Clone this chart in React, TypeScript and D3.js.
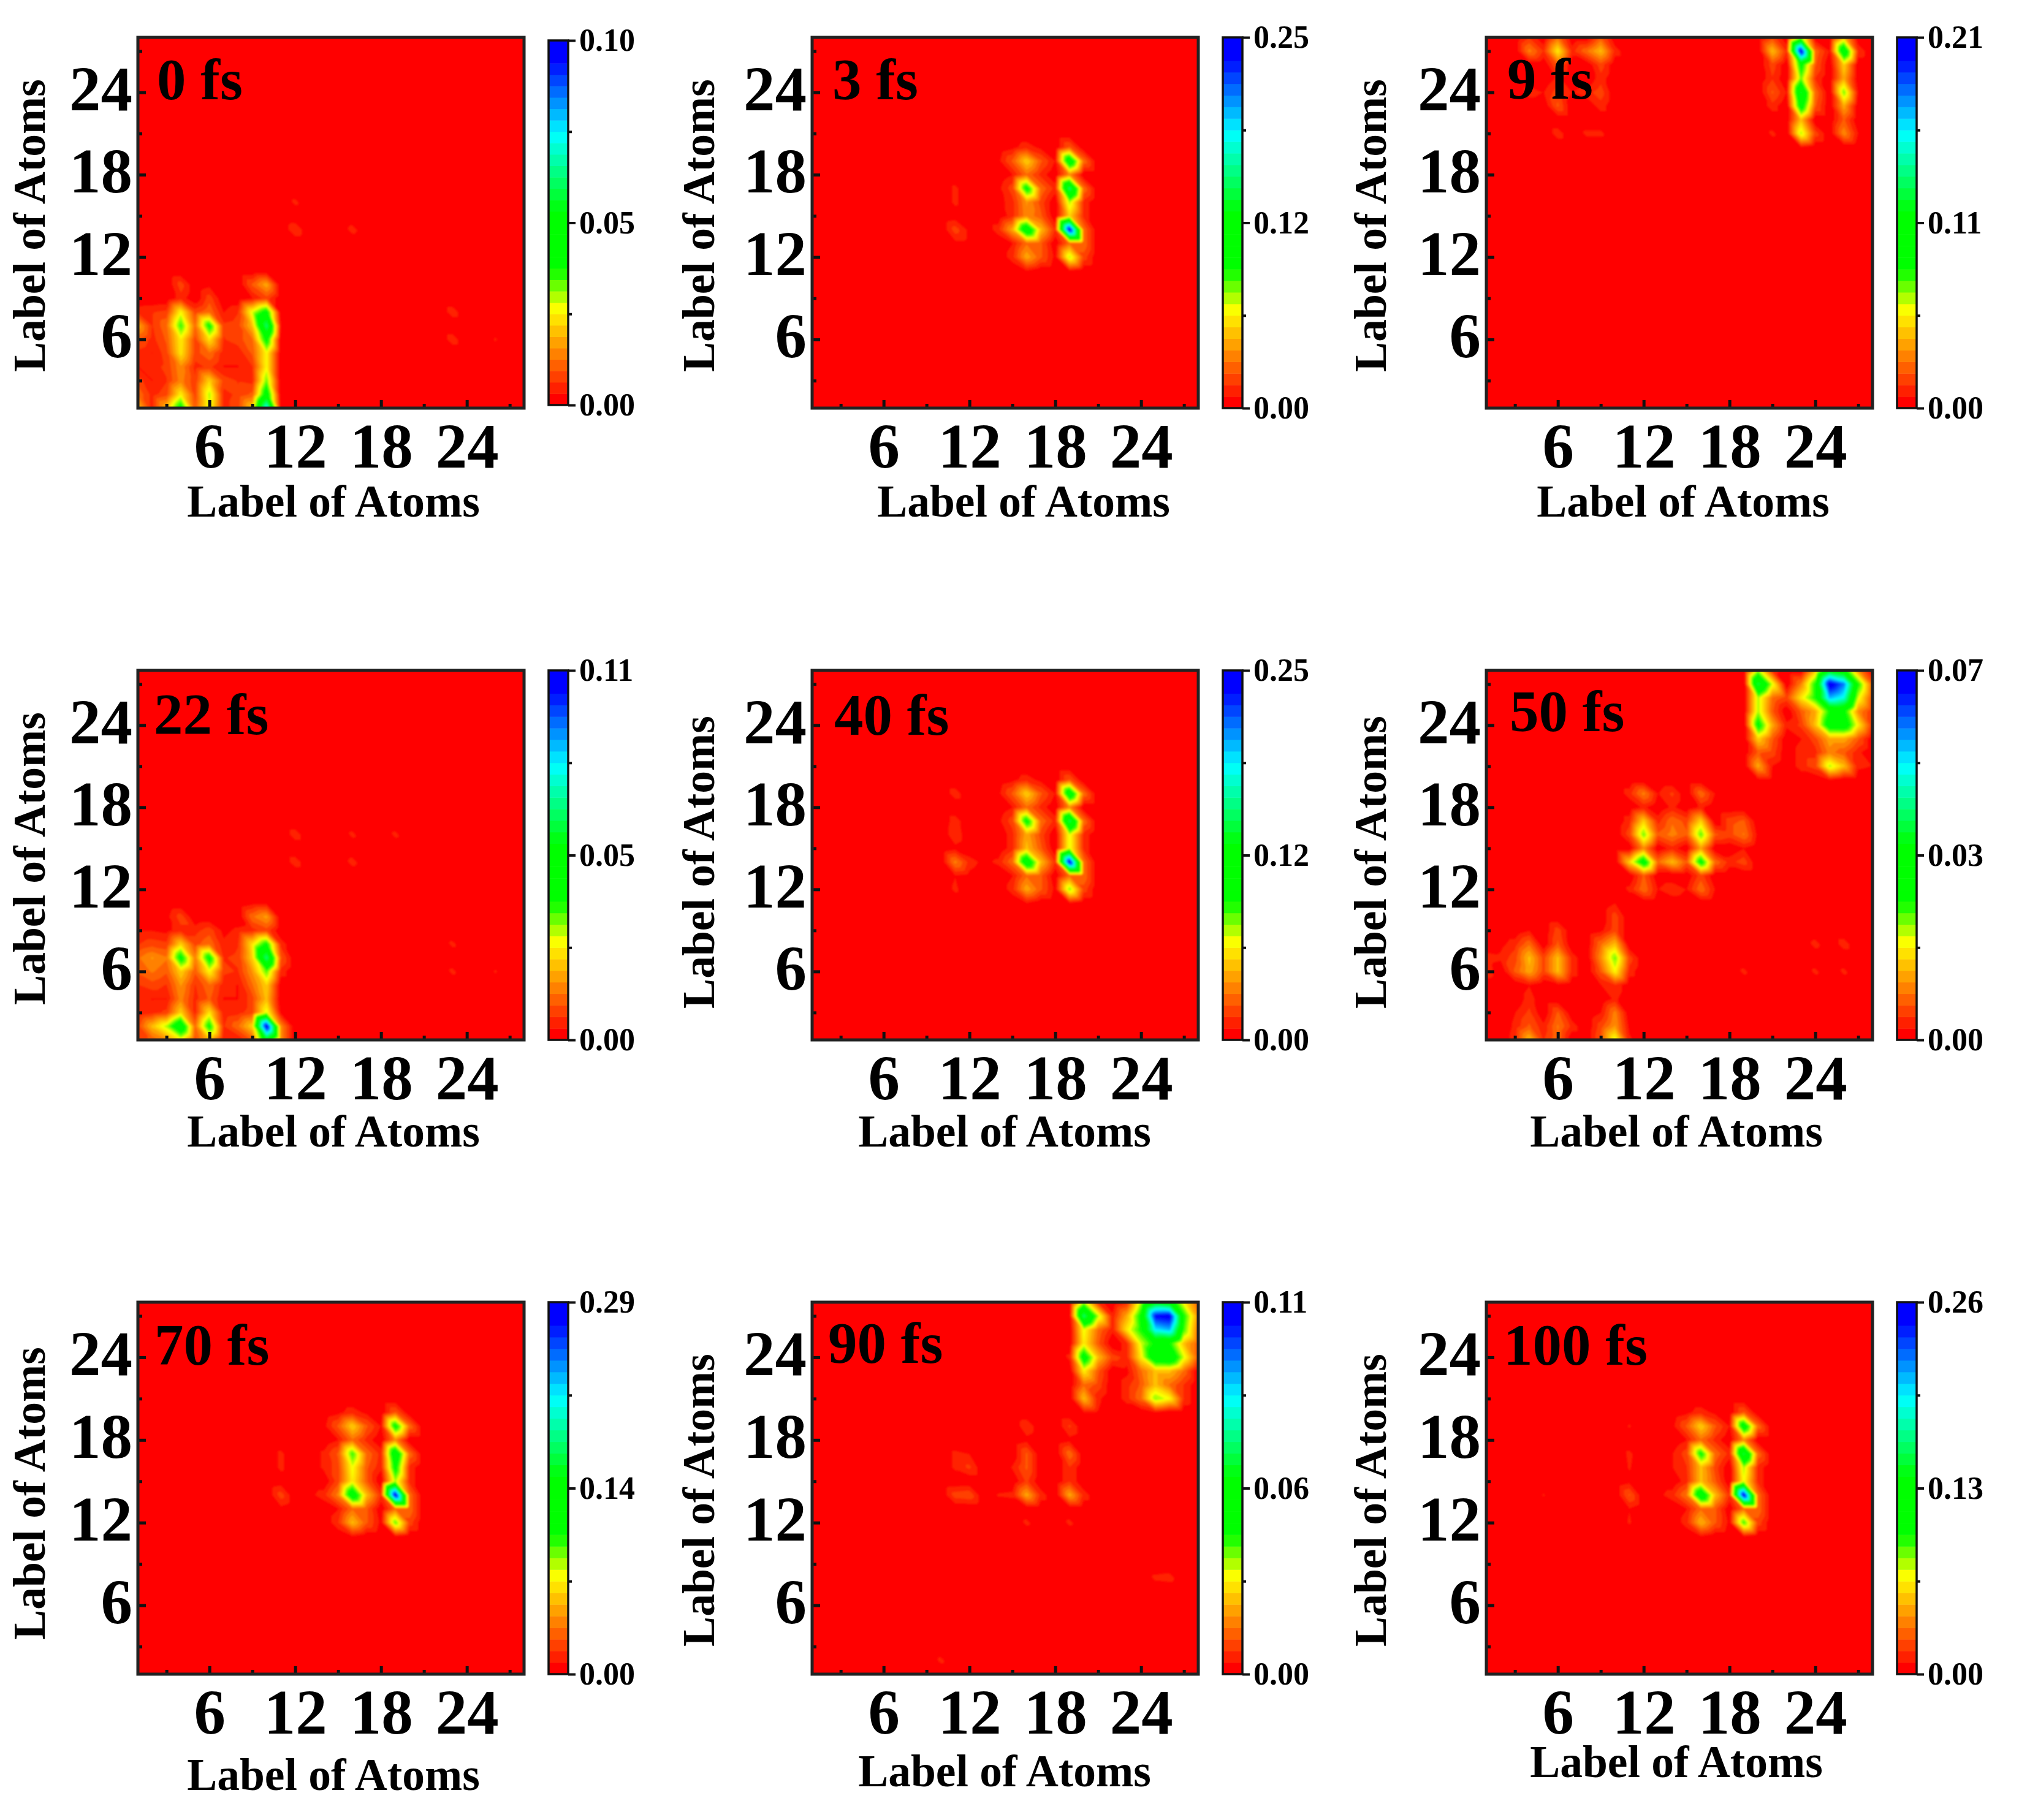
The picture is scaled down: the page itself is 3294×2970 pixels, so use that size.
import React, { useRef, useEffect } from "react";
import * as d3 from "d3";

// cells: [atom on x axis, { atom on y axis: share of the colour bar maximum }], everything else is 0
type Cells = [number, Record<number, number>][];

const cells0fs: Cells = [
  [1, { 1: .2, 2: .12, 3: .08, 4: .03, 5: .05, 6: .1, 7: .18, 8: .05 }],
  [2, { 1: .05, 2: .05, 3: .03, 4: .05, 5: .03, 6: .05, 7: .06, 8: .06 }],
  [3, { 1: .2, 2: .08, 3: .06, 4: .07, 5: .08, 6: .1, 7: .12, 8: .07 }],
  [4, { 1: .42, 2: .25, 3: .14, 4: .15, 5: .24, 6: .25, 7: .36, 8: .26, 9: .05, 10: .08 }],
  [5, { 1: .1, 2: .08, 3: .07, 4: .05, 5: .08, 6: .08, 7: .12, 8: .08 }],
  [6, { 1: .28, 2: .3, 3: .22, 4: .07, 5: .12, 6: .24, 7: .4, 8: .12, 9: .08, 10: .02 }],
  [7, { 1: .05, 2: .05, 3: .08, 4: .03, 5: .04, 6: .06, 7: .07, 8: .03 }],
  [8, { 1: .08, 2: .07, 3: .06, 4: .03, 5: .04, 6: .08, 7: .08, 8: .06 }],
  [9, { 1: .22, 2: .1, 3: .05, 4: .06, 5: .1, 6: .12, 7: .2, 8: .28, 9: .03, 10: .1 }],
  [10, { 1: .75, 2: .45, 3: .33, 4: .26, 5: .26, 6: .42, 7: .62, 8: .42, 9: .08, 10: .18 }],
  [11, { 1: .02, 7: .03 }],
  [12, { 14: .06, 16: .04 }],
  [16, { 14: .045 }],
  [23, { 6: .05, 8: .05 }],
  [26, { 6: .036 }],
];

const cells3fs: Cells = [
  [11, { 13: .02, 14: .08, 15: .01, 16: .04, 17: .04 }],
  [12, { 13: .02, 14: .02 }],
  [14, { 14: .05, 16: .015, 17: .02, 19: .02 }],
  [15, { 12: .05, 13: .03, 14: .18, 15: .05, 16: .05, 17: .08, 18: .03, 19: .1, 20: .02 }],
  [16, { 11: .03, 12: .18, 13: .12, 14: .5, 15: .15, 16: .16, 17: .42, 18: .12, 19: .22, 20: .05 }],
  [17, { 12: .1, 13: .1, 14: .2, 15: .1, 16: .08, 17: .12, 18: .05, 19: .1, 20: .02 }],
  [18, { 12: .02, 14: .06, 17: .05, 19: .03 }],
  [19, { 11: .03, 12: .3, 13: .12, 14: 1, 15: .22, 16: .3, 17: .62, 18: .15, 19: .5, 20: .1 }],
  [20, { 12: .08, 13: .12, 14: .12, 15: .05, 16: .05, 17: .12, 19: .12 }],
];

const cells9fs: Cells = [
  [4, { 21: .03, 24: .05, 27: .14, 28: .06 }],
  [5, { 24: .03, 27: .06 }],
  [6, { 21: .05, 23: .1, 24: .08, 25: .04, 26: .1, 27: .25, 28: .12 }],
  [7, { 24: .03, 27: .05 }],
  [8, { 21: .04, 24: .05, 27: .12 }],
  [9, { 21: .04, 23: .05, 24: .08, 25: .05, 26: .08, 27: .2, 28: .1 }],
  [10, { 27: .05 }],
  [21, { 21: .04, 23: .05, 24: .1, 25: .06, 26: .08, 27: .2, 28: .08 }],
  [22, { 24: .03, 27: .06 }],
  [23, { 20: .03, 21: .3, 22: .2, 23: .45, 24: .55, 25: .33, 26: .42, 27: 1, 28: .32 }],
  [24, { 21: .08, 23: .1, 24: .12, 25: .06, 26: .1, 27: .12 }],
  [25, { 27: .03 }],
  [26, { 21: .15, 22: .1, 23: .18, 24: .33, 25: .18, 26: .22, 27: .5, 28: .2 }],
  [27, { 21: .03, 24: .03, 27: .06 }],
];

const cells22fs: Cells = [
  [1, { 1: .08, 2: .08, 3: .03, 4: .04, 5: .06, 6: .1, 7: .12, 8: .06, 9: .03 }],
  [2, { 1: .1, 2: .2, 3: .05, 4: .03, 5: .08, 6: .13, 7: .16, 8: .08, 9: .03 }],
  [3, { 1: .15, 2: .3, 3: .07, 4: .03, 5: .06, 6: .1, 7: .13, 8: .07, 9: .02, 10: .02 }],
  [4, { 1: .25, 2: .5, 3: .22, 4: .14, 5: .16, 6: .22, 7: .42, 8: .22, 9: .05, 10: .08 }],
  [5, { 1: .08, 2: .12, 3: .05, 4: .05, 5: .06, 6: .1, 7: .14, 8: .08, 9: .05 }],
  [6, { 1: .2, 2: .4, 3: .24, 4: .1, 5: .12, 6: .26, 7: .42, 8: .12, 9: .08 }],
  [7, { 1: .03, 2: .06, 3: .04, 4: .03, 5: .04, 6: .07, 7: .06, 8: .04, 9: .02 }],
  [8, { 1: .03, 2: .12, 3: .05, 4: .03, 5: .03, 6: .06, 7: .07, 8: .06, 9: .04 }],
  [9, { 1: .1, 2: .22, 3: .08, 4: .08, 5: .12, 6: .16, 7: .22, 8: .24, 9: .05, 10: .12, 11: .02 }],
  [10, { 1: .5, 2: 1, 3: .28, 4: .2, 5: .22, 6: .34, 7: .63, 8: .4, 9: .08, 10: .17, 11: .02 }],
  [11, { 1: .15, 2: .15, 3: .02, 6: .05, 7: .1, 8: .05 }],
  [12, { 14: .05, 16: .05 }],
  [16, { 14: .045, 16: .04 }],
  [19, { 16: .04 }],
  [23, { 6: .04, 8: .04 }],
  [26, { 6: .036 }],
];

const cells40fs: Cells = [
  [11, { 12: .04, 13: .03, 14: .14, 15: .02, 16: .06, 17: .05, 19: .05 }],
  [12, { 13: .02, 14: .05 }],
  [13, { 14: .02 }],
  [14, { 14: .04, 17: .02, 19: .02 }],
  [15, { 12: .05, 13: .03, 14: .12, 15: .05, 16: .05, 17: .08, 18: .03, 19: .1, 20: .02 }],
  [16, { 11: .03, 12: .18, 13: .12, 14: .5, 15: .2, 16: .18, 17: .42, 18: .12, 19: .22, 20: .05 }],
  [17, { 12: .1, 13: .1, 14: .2, 15: .1, 16: .08, 17: .12, 18: .05, 19: .1, 20: .02 }],
  [18, { 12: .02, 14: .06, 17: .05, 19: .03 }],
  [19, { 11: .03, 12: .32, 13: .12, 14: 1, 15: .28, 16: .28, 17: .6, 18: .15, 19: .5, 20: .1 }],
  [20, { 12: .08, 13: .12, 14: .12, 15: .05, 16: .05, 17: .12, 19: .12 }],
];

const cells50fs: Cells = [
  [1, { 1: .03, 6: .06, 7: .05 }],
  [2, { 7: .04, 8: .02 }],
  [3, { 1: .05, 2: .04, 3: .03, 6: .1, 7: .08, 8: .05 }],
  [4, { 1: .2, 2: .1, 3: .07, 4: .05, 5: .03, 6: .18, 7: .2, 8: .12, 9: .03 }],
  [5, { 1: .06, 2: .04, 6: .08, 7: .08 }],
  [6, { 1: .12, 2: .13, 3: .1, 5: .02, 6: .2, 7: .2, 8: .1, 9: .08 }],
  [7, { 2: .05, 6: .05, 7: .05 }],
  [9, { 1: .1, 2: .08, 3: .03, 5: .03, 6: .1, 7: .15, 8: .12, 9: .02 }],
  [10, { 1: .28, 2: .16, 3: .14, 4: .04, 5: .06, 6: .26, 7: .33, 8: .2, 9: .08, 10: .08, 11: .03 }],
  [11, { 1: .04, 2: .02, 6: .05, 7: .08, 12: .04, 14: .22, 16: .08, 17: .05, 19: .05 }],
  [12, { 12: .12, 13: .1, 14: .45, 15: .15, 16: .33, 17: .22, 18: .04, 19: .14 }],
  [13, { 12: .03, 14: .12, 16: .1, 17: .05, 19: .03 }],
  [14, { 12: .06, 14: .2, 15: .05, 16: .14, 17: .12, 18: .04, 19: .07 }],
  [15, { 12: .03, 14: .1, 16: .1, 17: .08 }],
  [16, { 12: .12, 13: .08, 14: .42, 15: .17, 16: .34, 17: .22, 18: .04, 19: .12 }],
  [17, { 12: .03, 14: .12, 16: .1, 19: .03 }],
  [18, { 14: .05, 16: .08, 17: .08 }],
  [19, { 6: .04, 14: .08, 15: .03, 16: .13, 17: .1 }],
  [20, { 16: .02, 20: .02, 21: .18, 22: .1, 23: .22, 24: .42, 25: .3, 26: .3, 27: .58, 28: .3 }],
  [21, { 20: .02, 21: .03, 22: .08, 23: .1, 24: .18, 25: .1, 26: .12, 27: .28, 28: .05 }],
  [22, { 24: .04, 26: .08 }],
  [23, { 21: .05, 22: .05, 23: .03, 24: .07, 25: .1, 26: .24, 27: .14 }],
  [24, { 6: .04, 8: .045, 21: .08, 22: .05, 23: .08, 24: .2, 25: .18, 26: .38, 27: .38, 28: .2 }],
  [25, { 20: .03, 21: .3, 22: .14, 23: .18, 24: .45, 25: .38, 26: .8, 27: 1, 28: .5 }],
  [26, { 6: .04, 8: .05, 21: .2, 22: .1, 23: .18, 24: .46, 25: .4, 26: .72, 27: .85, 28: .42 }],
  [27, { 21: .04, 22: .04, 23: .1, 24: .25, 25: .15, 26: .28, 27: .38, 28: .15 }],
  [28, { 21: .03, 24: .06, 25: .06, 26: .08, 27: .1 }],
];

const cells70fs: Cells = [
  [11, { 13: .02, 14: .08, 15: .01, 16: .04, 17: .04 }],
  [13, { 14: .02 }],
  [14, { 14: .05, 16: .04, 17: .04, 19: .02 }],
  [15, { 12: .06, 13: .03, 14: .14, 15: .08, 16: .08, 17: .1, 18: .03, 19: .1, 20: .02 }],
  [16, { 11: .03, 12: .2, 13: .12, 14: .48, 15: .25, 16: .27, 17: .36, 18: .12, 19: .22, 20: .05 }],
  [17, { 12: .1, 13: .1, 14: .2, 15: .1, 16: .1, 17: .12, 18: .05, 19: .1, 20: .02 }],
  [18, { 12: .02, 14: .06, 16: .04, 17: .05, 19: .03 }],
  [19, { 11: .03, 12: .34, 13: .12, 14: 1, 15: .3, 16: .42, 17: .5, 18: .15, 19: .42, 20: .1 }],
  [20, { 12: .08, 13: .12, 14: .12, 15: .05, 16: .05, 17: .12, 19: .12 }],
];

const cells90fs: Cells = [
  [10, { 2: .04 }],
  [11, { 14: .08, 16: .04, 17: .04 }],
  [12, { 14: .09, 16: .07, 17: .03 }],
  [14, { 14: .035 }],
  [15, { 14: .04, 16: .035 }],
  [16, { 12: .04, 14: .18, 15: .07, 16: .1, 17: .1, 18: .02, 19: .06 }],
  [17, { 14: .05 }],
  [19, { 12: .04, 14: .18, 15: .06, 16: .06, 17: .12, 18: .02, 19: .07, 24: .04, 27: .02 }],
  [20, { 14: .05, 20: .03, 21: .2, 22: .12, 23: .25, 24: .45, 25: .25, 26: .27, 27: .62, 28: .3 }],
  [21, { 20: .03, 21: .04, 22: .08, 23: .1, 24: .2, 25: .1, 26: .12, 27: .3, 28: .05 }],
  [22, { 24: .08, 26: .04, 27: .04 }],
  [23, { 21: .05, 22: .05, 23: .02, 24: .05, 25: .05, 26: .24, 27: .18, 28: .05 }],
  [24, { 21: .12, 22: .1, 23: .12, 24: .25, 25: .28, 26: .38, 27: .4, 28: .3 }],
  [25, { 8: .04, 20: .03, 21: .32, 22: .2, 23: .2, 24: .48, 25: .4, 26: .75, 27: .95, 28: .5 }],
  [26, { 8: .045, 21: .26, 22: .12, 23: .2, 24: .5, 25: .38, 26: .8, 27: .98, 28: .45 }],
  [27, { 21: .06, 22: .06, 23: .12, 24: .28, 25: .2, 26: .35, 27: .38, 28: .25 }],
  [28, { 24: .1, 25: .1, 26: .12, 27: .15, 28: .1 }],
];

const cells100fs: Cells = [
  [5, { 14: .035 }],
  [11, { 12: .036, 13: .03, 14: .1, 15: .02, 16: .035, 17: .04, 19: .036 }],
  [13, { 14: .02 }],
  [14, { 14: .05, 16: .03, 17: .03, 19: .02 }],
  [15, { 12: .05, 13: .03, 14: .13, 15: .05, 16: .06, 17: .08, 18: .03, 19: .1, 20: .02 }],
  [16, { 11: .03, 12: .19, 13: .12, 14: .5, 15: .2, 16: .2, 17: .4, 18: .12, 19: .22, 20: .05 }],
  [17, { 12: .1, 13: .1, 14: .2, 15: .1, 16: .08, 17: .12, 18: .05, 19: .1, 20: .02 }],
  [18, { 12: .02, 14: .06, 17: .05, 19: .03 }],
  [19, { 11: .03, 12: .36, 13: .12, 14: 1, 15: .27, 16: .3, 17: .58, 18: .15, 19: .47, 20: .1 }],
  [20, { 12: .08, 13: .12, 14: .12, 15: .05, 16: .05, 17: .12, 19: .12 }],
];

const panelCells = [cells0fs, cells3fs, cells9fs, cells22fs, cells40fs, cells50fs, cells70fs, cells90fs, cells100fs];
const panelNames = ["0 fs", "3 fs", "9 fs", "22 fs", "40 fs", "50 fs", "70 fs", "90 fs", "100 fs"];
const barMax = [0.1, 0.25, 0.21, 0.11, 0.25, 0.07, 0.29, 0.11, 0.26];
const barLabels = [
  ["0.00", "0.05", "0.10"], ["0.00", "0.12", "0.25"], ["0.00", "0.11", "0.21"],
  ["0.00", "0.05", "0.11"], ["0.00", "0.12", "0.25"], ["0.00", "0.03", "0.07"],
  ["0.00", "0.14", "0.29"], ["0.00", "0.06", "0.11"], ["0.00", "0.13", "0.26"],
];

const majorTicks = [6, 12, 18, 24];
const minorTicks = [3, 9, 15, 21, 27];
const atomCount = 28;
const bandCount = 32;
const refine = 6; // samples per atom when the triangles are rasterised for d3.contours

// colour ramp of the bars: share of the range -> colour
const rampStops = [0, 0.256, 0.37, 0.53, 0.75, 0.96, 1];
const rampColors = ["#ff0000", "#ffff00", "#00ff00", "#00ff00", "#00ffff", "#0000ff", "#0000ff"];

// layout, full-size pixels
const colLeft = [225, 1325, 2425];
const plotW = 630;
const rowTop = [61, 1094, 2125];
const plotH = [605, 603, 607];
const barInset = [5, 0, 0, 0, 0, 0, 0, 0, 0];
const nameXY = [[256, 162], [1358, 162], [2459, 161], [251, 1198], [1361, 1199], [2463, 1193], [252, 2227], [1351, 2224], [2453, 2227]];
const xTitleXY = [[544, 843], [1670, 843], [2746, 843], [544, 1871], [1639, 1871], [2735, 1871], [544, 2921], [1639, 2915], [2735, 2900]];
const yTitleXY = [[73, 368], [1165, 368], [2261, 368], [73, 1401], [1165, 1407], [2261, 1407], [73, 2437], [1165, 2448], [2261, 2448]];

const serif = "'Liberation Serif', 'Times New Roman', serif";

// the plot software splits every grid square along its NW-SE diagonal and is linear in each triangle
const toFineGrid = (grid: number[]) => {
  const n = (atomCount - 1) * refine + 1;
  const fine = new Array(n * n);
  for (let j = 0; j < n; j++) {
    const cy = Math.min(Math.floor(j / refine), atomCount - 2);
    const v = j / refine - cy;
    for (let i = 0; i < n; i++) {
      const cx = Math.min(Math.floor(i / refine), atomCount - 2);
      const u = i / refine - cx;
      const a00 = grid[cy * atomCount + cx];
      const a10 = grid[cy * atomCount + cx + 1];
      const a01 = grid[(cy + 1) * atomCount + cx];
      const a11 = grid[(cy + 1) * atomCount + cx + 1];
      fine[j * n + i] = u + v <= 1
        ? a00 + u * (a10 - a00) + v * (a01 - a00)
        : a11 + (1 - u) * (a01 - a11) + (1 - v) * (a10 - a11);
    }
  }
  return { fine, n };
};

const App = () => {
  const ref = useRef<SVGSVGElement>(null);

  useEffect(() => {
    const svg = d3.select(ref.current);
    svg.selectAll("*").remove();
    svg.attr("font-family", serif).attr("font-weight", "bold");

    const ramp = d3.scaleLinear<string>().domain(rampStops).range(rampColors).clamp(true);

    svg.append("defs").append("filter").attr("id", "soft")
      .attr("x", "-2%").attr("y", "-2%").attr("width", "104%").attr("height", "104%")
      .append("feGaussianBlur").attr("stdDeviation", 1.6);

    panelCells.forEach((cells, p) => {
      const left = colLeft[p % 3];
      const row = Math.floor(p / 3);
      const top = rowTop[row];
      const h = plotH[row];
      const max = barMax[p];

      const x = d3.scaleLinear().domain([1, atomCount]).range([left, left + plotW]);
      const y = d3.scaleLinear().domain([1, atomCount]).range([top + h, top]);

      const grid: number[] = new Array(atomCount * atomCount).fill(0);
      cells.forEach(([ax, col]) => {
        Object.entries(col).forEach(([ay, share]) => {
          grid[(+ay - 1) * atomCount + ax - 1] = share * max;
        });
      });
      const { fine, n } = toFineGrid(grid);

      const clipId = `plot-${p}`;
      svg.select("defs").append("clipPath").attr("id", clipId)
        .append("rect").attr("x", left).attr("y", top).attr("width", plotW).attr("height", h);

      const plot = svg.append("g").attr("clip-path", `url(#${clipId})`);
      plot.append("rect").attr("x", left).attr("y", top).attr("width", plotW).attr("height", h).attr("fill", "#ff0000");

      // filled contours, one polygon set per band; sample i sits at i + 0.5 in contour space
      const thresholds = d3.range(1, bandCount).map(i => (i / bandCount) * max);
      const contours = d3.contours().size([n, n]).thresholds(thresholds)(fine);
      const path = d3.geoPath(d3.geoTransform({
        point(gx, gy) { this.stream.point(x(1 + (gx - 0.5) / refine), y(1 + (gy - 0.5) / refine)); },
      }));
      plot.append("g").attr("filter", "url(#soft)")
        .selectAll("path").data(contours).join("path")
        .attr("d", d => path(d))
        .attr("fill", (d, i) => ramp((i + 1) / (bandCount - 1)));

      // axes, ticks pointing inward
      const xAxis = svg.append("g").attr("transform", `translate(0,${top + h})`);
      xAxis.call(d3.axisBottom(x).tickValues(majorTicks).tickSize(-13).tickPadding(24).tickFormat(d3.format("d")));
      const xMinor = svg.append("g").attr("transform", `translate(0,${top + h})`);
      xMinor.call(d3.axisBottom(x).tickValues(minorTicks).tickSize(-7).tickFormat(() => ""));

      const yAxis = svg.append("g").attr("transform", `translate(${left},0)`);
      yAxis.call(d3.axisLeft(y).tickValues(majorTicks).tickSize(-13).tickPadding(9).tickFormat(d3.format("d")));
      const yMinor = svg.append("g").attr("transform", `translate(${left},0)`);
      yMinor.call(d3.axisLeft(y).tickValues(minorTicks).tickSize(-7).tickFormat(() => ""));

      [xAxis, xMinor, yAxis, yMinor].forEach(g => {
        g.select(".domain").remove();
        g.selectAll("line").attr("stroke", "#111").attr("stroke-width", 5);
        g.selectAll("text").attr("font-size", 103).attr("font-family", serif).attr("font-weight", "bold").attr("fill", "#000");
      });
      yAxis.selectAll("text").attr("dy", "0.28em");

      svg.append("rect").attr("x", left).attr("y", top).attr("width", plotW).attr("height", h)
        .attr("fill", "none").attr("stroke", "#222").attr("stroke-width", 5);

      // colour bar
      const barX = left + plotW + 40;
      const barW = 32;
      const inset = barInset[p];
      const bar = d3.scaleLinear().domain([0, max]).range([top + h - inset, top + inset]);
      svg.append("g").selectAll("rect").data(d3.range(bandCount)).join("rect")
        .attr("x", barX)
        .attr("y", i => bar(((i + 1) / bandCount) * max))
        .attr("width", barW)
        .attr("height", i => bar((i / bandCount) * max) - bar(((i + 1) / bandCount) * max) + 0.5)
        .attr("fill", i => ramp(i / (bandCount - 1)));
      svg.append("rect").attr("x", barX).attr("y", top + inset).attr("width", barW).attr("height", h - 2 * inset)
        .attr("fill", "none").attr("stroke", "#111").attr("stroke-width", 3.5);

      const labels = barLabels[p];
      const barAxis = svg.append("g").attr("transform", `translate(${barX + barW},0)`);
      barAxis.call(d3.axisRight(bar).tickValues([0, max / 2, max]).tickSize(12).tickPadding(6).tickFormat((d, i) => labels[i]));
      const barMinor = svg.append("g").attr("transform", `translate(${barX + barW},0)`);
      barMinor.call(d3.axisRight(bar).tickValues([max / 4, (3 * max) / 4]).tickSize(6).tickFormat(() => ""));
      [barAxis, barMinor].forEach(g => {
        g.select(".domain").remove();
        g.selectAll("line").attr("stroke", "#111").attr("stroke-width", 4);
        g.selectAll("text").attr("font-size", 52).attr("font-family", serif).attr("font-weight", "bold").attr("fill", "#000");
      });

      // texts
      svg.append("text").attr("x", nameXY[p][0]).attr("y", nameXY[p][1])
        .attr("font-size", 95).text(panelNames[p]);
      svg.append("text").attr("x", xTitleXY[p][0]).attr("y", xTitleXY[p][1])
        .attr("text-anchor", "middle").attr("font-size", 73.5).text("Label of Atoms");
      svg.append("text")
        .attr("transform", `translate(${yTitleXY[p][0]},${yTitleXY[p][1]}) rotate(-90)`)
        .attr("text-anchor", "middle").attr("font-size", 73.5).text("Label of Atoms");
    });
  }, []);

  return (
    <svg
      ref={ref}
      width={3294}
      height={2970}
      style={{ position: "absolute", left: 0, top: 0, display: "block", background: "#fff" }}
    />
  );
};

export default App;
